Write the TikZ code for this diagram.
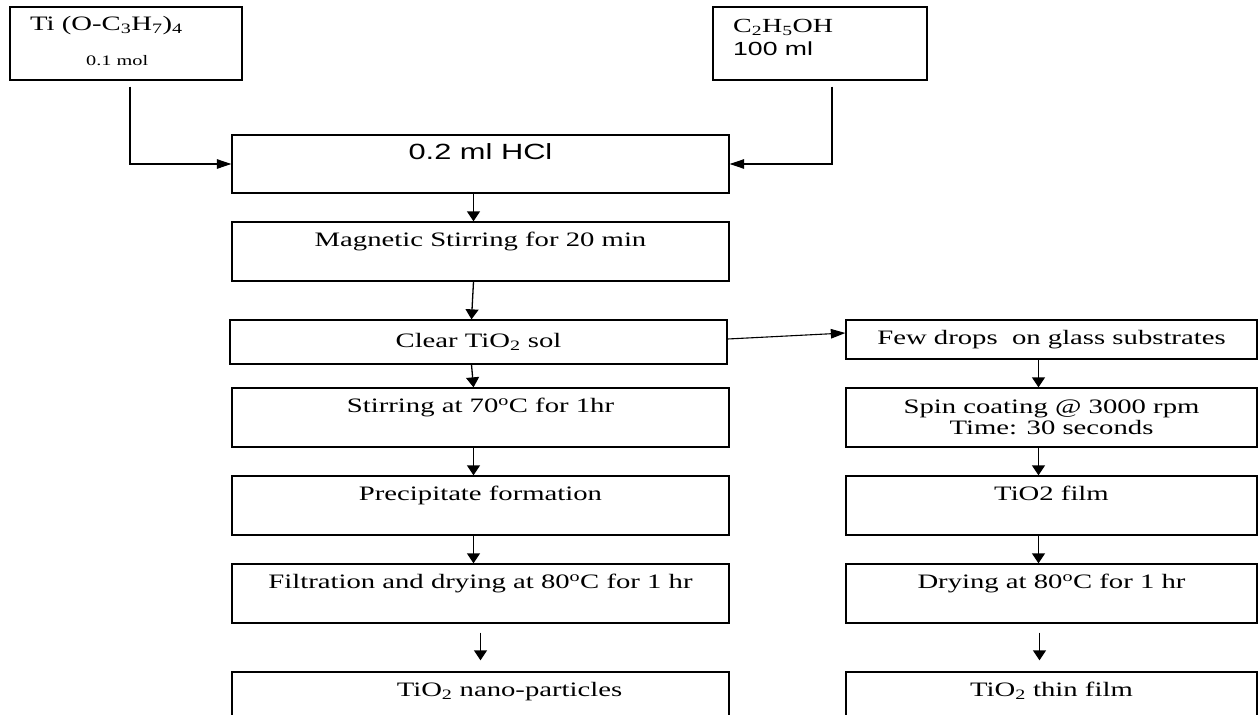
\documentclass[tikz,border=0pt]{standalone}
\usepackage{fontspec}
\setmainfont{Liberation Serif}[FakeStretch=1.4]
\setsansfont{Liberation Sans}[FakeStretch=1.4]
\usetikzlibrary{arrows.meta}

\begin{document}
\begin{tikzpicture}[x=1pt, y=-1pt,
    box/.style={draw, line width=1.3pt, inner sep=0pt, align=center, font=\fontsize{20.5}{24}\selectfont},
    lbl/.style={anchor=base west, inner sep=0pt},
    varr/.style={-{Triangle[length=10pt,width=13pt]}, line width=1.3pt},
    harr/.style={-{Triangle[length=14.5pt,width=9.5pt]}, line width=1.1pt}]

    \clip (0,0) rectangle (1259,715);

    % Reagenti
    \node[box, minimum width=232, minimum height=73] (ti) at (126,43.5) {};
    \node[lbl, font=\fontsize{20.5}{24}\selectfont] (tiname) at (30,30) {Ti (O-C\textsubscript{3}H\textsubscript{7})\textsubscript{4}};
    \node[lbl, font=\fontsize{14.5}{16}\selectfont] (timol) at (86,65) {0.1 mol};
    \node[box, minimum width=214, minimum height=73] (eth) at (820,43.5) {};
    \node[lbl, font=\fontsize{20}{22}\selectfont] (ethname) at (733,32) {C\textsubscript{2}H\textsubscript{5}OH};
    \node[lbl, font=\sffamily\fontsize{19}{22}\selectfont] (ethvol) at (733,55) {100 ml};

    % Colonna sinistra
    \node[box, minimum width=497, minimum height=58, font=\sffamily\fontsize{22}{24}\selectfont] (hcl) at (480.5,164) {0.2 ml HCl\\\mbox{}};
    \node[box, minimum width=497, minimum height=59] (mag) at (480.5,251.5) {Magnetic Stirring for 20 min\\\mbox{}};
    \node[box, minimum width=497, minimum height=44] (clear) at (478.5,342) {Clear TiO\textsubscript{2} sol};
    \node[box, minimum width=497, minimum height=59] (stir) at (480.5,417.5) {Stirring at 70\textsuperscript{o}C for 1hr\\\mbox{}};
    \node[box, minimum width=497, minimum height=59] (prec) at (480.5,505.5) {Precipitate formation\\\mbox{}};
    \node[box, minimum width=497, minimum height=59] (filt) at (480.5,593.5) {Filtration and drying at 80\textsuperscript{o}C for 1 hr\\\mbox{}};
    \node[box, minimum width=497, minimum height=59] (nano) at (480.5,701.5) {\hspace*{58pt}TiO\textsubscript{2} nano-particles\\\mbox{}};

    % Colonna destra
    \node[box, minimum width=411, minimum height=39] (drops) at (1051.5,339.5) {Few drops~ on glass substrates};
    \node[box, minimum width=411, minimum height=59, font=\fontsize{20.5}{21}\selectfont] (spin) at (1051.5,417.5) {Spin coating @ 3000 rpm\\Time: 30 seconds};
    \node[box, minimum width=411, minimum height=59] (film) at (1051.5,505.5) {TiO2 film\\\mbox{}};
    \node[box, minimum width=411, minimum height=59] (dry) at (1051.5,593.5) {Drying at 80\textsuperscript{o}C for 1 hr\\\mbox{}};
    \node[box, minimum width=411, minimum height=59] (thin) at (1051.5,701.5) {TiO\textsubscript{2} thin film\\\mbox{}};

    % Frecce
    \draw[harr] ([shift={(4,6)}]ti.south) |- (hcl.west);
    \draw[harr] ([shift={(12,6)}]eth.south) |- (hcl.east);
    \foreach \a/\b in {hcl/mag, mag/clear, clear/stir, stir/prec, prec/filt}
        \draw[varr] ([xshift=-7pt]\a.south) -- ([xshift=-7pt]\b.north);
    \draw[varr, shorten <=9pt, shorten >=11pt] (filt) -- (nano);
    \draw[harr] ([yshift=3pt]clear.east) -- ([yshift=6.5pt]drops.west);
    \foreach \a/\b in {drops/spin, spin/film, film/dry}
        \draw[varr] ([xshift=-13pt]\a.south) -- ([xshift=-13pt]\b.north);
    \draw[varr, shorten <=9pt, shorten >=11pt] ([xshift=-12pt]dry.south) -- ([xshift=-12pt]thin.north);
\end{tikzpicture}
\end{document}
